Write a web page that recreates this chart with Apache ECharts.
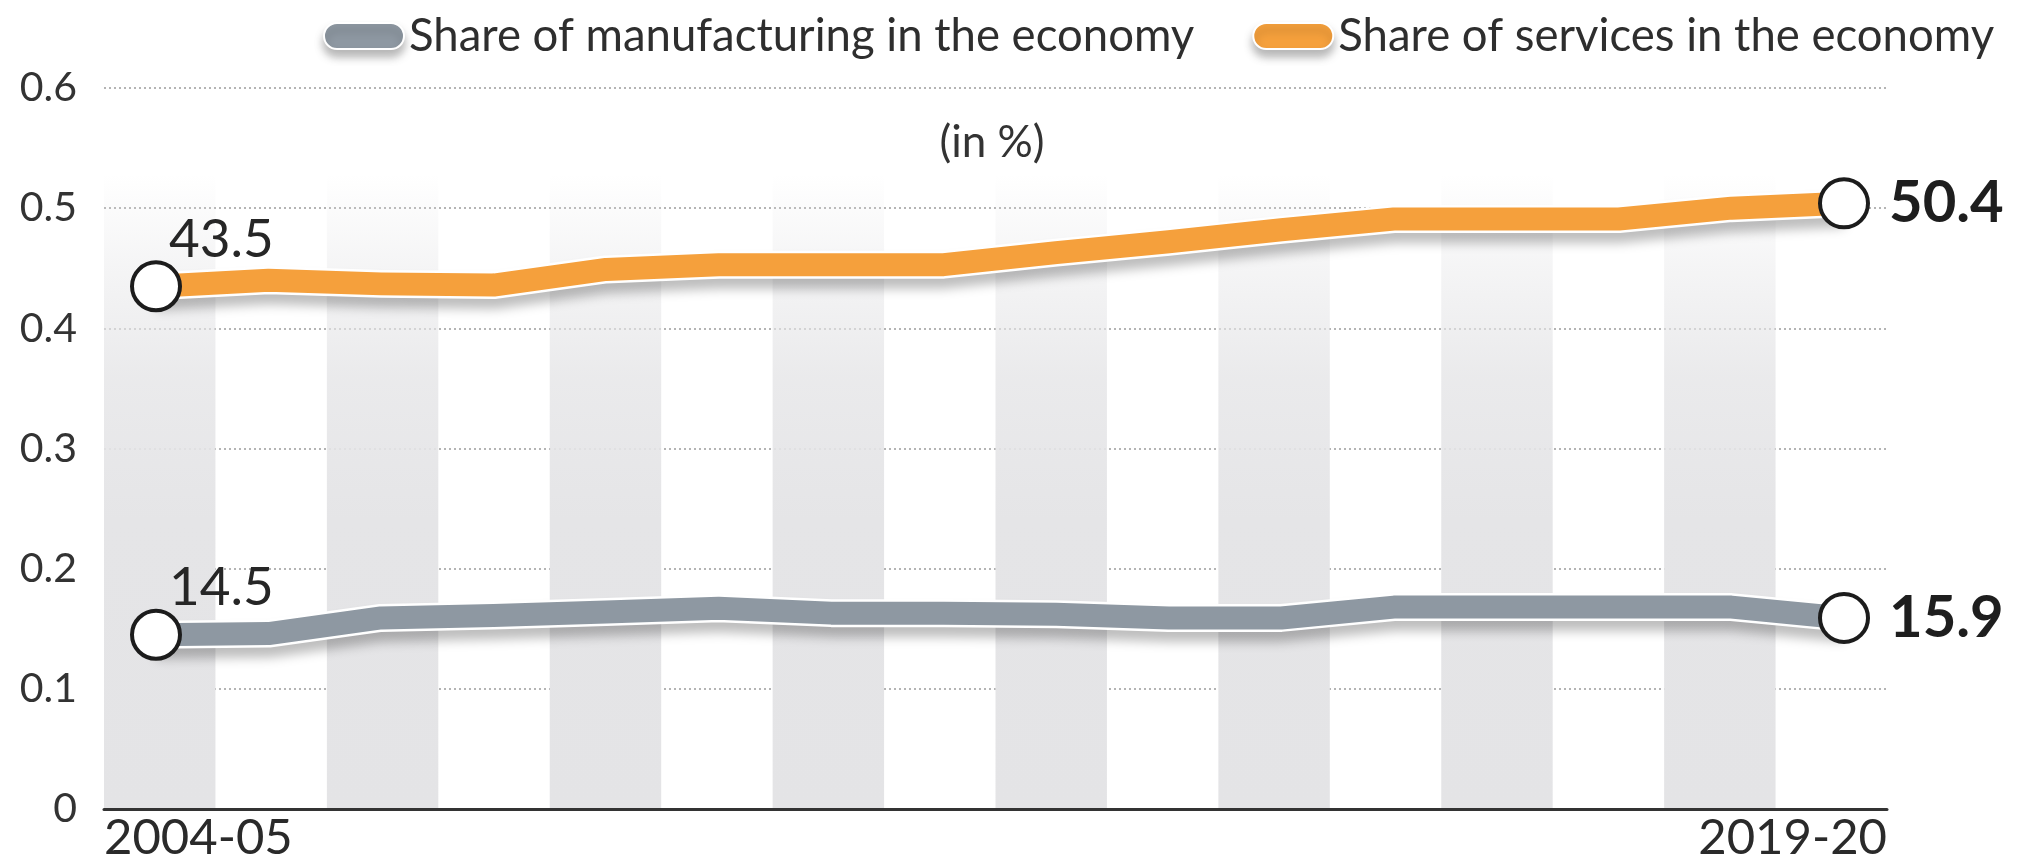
<!DOCTYPE html>
<html>
<head>
<meta charset="utf-8">
<title>Share of manufacturing and services in the economy</title>
<script src="https://cdn.jsdelivr.net/npm/echarts@6/dist/echarts.min.js"></script>
<style>
  html, body { margin: 0; padding: 0; background: #ffffff; }
  #chart { width: 2032px; height: 859px; }
</style>
</head>
<body>
<div id="chart"></div>
<script>
// Fiscal years on the x axis
const years = [
  '2004-05', '2005-06', '2006-07', '2007-08', '2008-09', '2009-10', '2010-11', '2011-12',
  '2012-13', '2013-14', '2014-15', '2015-16', '2016-17', '2017-18', '2018-19', '2019-20'
];

// Shares in per cent
const manufacturing = [14.5, 14.6, 15.9, 16.1, 16.4, 16.7, 16.3, 16.3, 16.2, 15.9, 15.9, 16.8, 16.8, 16.8, 16.8, 15.9];
const services = [43.5, 44.0, 43.7, 43.6, 44.9, 45.3, 45.3, 45.3, 46.3, 47.2, 48.2, 49.1, 49.1, 49.1, 50.0, 50.4];

// Value axis ticks (shares as fractions)
const yMin = 0;
const yMax = 0.6;
const yStep = 0.1;

const seriesNames = ['Share of manufacturing in the economy', 'Share of services in the economy'];
const seriesColors = ['#8e98a2', '#f5a03c'];

const FONT = 'Lato, "Noto Sans", "Liberation Sans", sans-serif';
const last = years.length - 1;

// Column shading: grey bands that fade out towards the top of the plot
const bandGrey = {
  type: 'linear', x: 0, y: 0, x2: 0, y2: 1,
  colorStops: [
    { offset: 0, color: 'rgba(229,229,231,0)' },
    { offset: 0.12, color: 'rgba(229,229,231,0)' },
    { offset: 0.25, color: 'rgba(229,229,231,0.4)' },
    { offset: 0.4, color: 'rgba(229,229,231,0.8)' },
    { offset: 0.6, color: 'rgba(229,229,231,1)' },
    { offset: 1, color: 'rgba(228,228,230,1)' }
  ]
};

const labelText = p => (p.value * 100).toFixed(1);

// Only the first and last points carry a ring marker and a value label
function buildPoints(pct) {
  return pct.map((v, i) => {
    const item = { value: v / 100 };
    if (i === 0) {
      item.symbol = 'circle';
      item.label = {
        show: true, position: [39, 6], align: 'left', verticalAlign: 'bottom',
        formatter: labelText, fontFamily: FONT, fontSize: 53, color: '#262626'
      };
    } else if (i === last) {
      item.symbol = 'circle';
      item.label = {
        show: true, position: 'right', distance: 19,
        formatter: labelText, fontFamily: FONT, fontSize: 58, fontWeight: 'bold', color: '#1e1e1e'
      };
    } else {
      item.symbol = 'none';
    }
    return item;
  });
}

function edgeSeries(pct, key) {
  // white casing with a soft drop shadow beneath each line
  return {
    type: 'line', name: key, xAxisIndex: 2, yAxisIndex: 1,
    data: pct.map(v => v / 100),
    symbol: 'none', silent: true, z: 3,
    lineStyle: {
      color: '#ffffff', width: 28, join: 'round',
      shadowColor: 'rgba(0,0,0,0.26)', shadowBlur: 11, shadowOffsetY: 10
    }
  };
}

function mainSeries(pct, idx) {
  return {
    type: 'line', name: seriesNames[idx], xAxisIndex: 2, yAxisIndex: 1,
    data: buildPoints(pct),
    symbolSize: 48, silent: true, z: 4,
    itemStyle: { color: '#ffffff', borderColor: '#1c1c1c', borderWidth: 4 },
    lineStyle: { color: seriesColors[idx], width: 23, join: 'round' }
  };
}

const legendIcon = 'path://M13,0 L67,0 A13,13 0 0 1 67,26 L13,26 A13,13 0 0 1 13,0 Z';

const option = {
  animation: false,
  backgroundColor: '#ffffff',
  textStyle: { fontFamily: FONT },
  legend: {
    top: 8, left: 318, width: 1710,
    itemWidth: 80, itemHeight: 26, itemGap: 58,
    icon: legendIcon,
    selectedMode: false,
    textStyle: { fontFamily: FONT, fontSize: 45.5, color: '#2e2e2e' },
    data: seriesNames.map((n, i) => ({
      name: n,
      itemStyle: {
        color: seriesColors[i], borderColor: '#ffffff', borderWidth: 2,
        shadowColor: 'rgba(0,0,0,0.28)', shadowBlur: 8, shadowOffsetY: 7
      }
    }))
  },
  graphic: [{
    type: 'text', x: 992, y: 143,
    style: {
      text: '(in %)', align: 'center', verticalAlign: 'middle',
      fontFamily: FONT, fontSize: 44, fill: '#333333'
    }
  }],
  grid: [
    { left: 104, right: 145, top: 88, bottom: 50, outerBoundsMode: 'none' },
    { left: 156, right: 188, top: 88, bottom: 50, outerBoundsMode: 'none' }
  ],
  xAxis: [
    {
      // shaded columns and the baseline
      type: 'category', gridIndex: 0, data: years, boundaryGap: true,
      axisLine: { show: true, lineStyle: { color: '#333333', width: 3 } },
      axisTick: { show: false },
      axisLabel: { show: false },
      splitLine: { show: false },
      splitArea: { show: true, interval: 0, areaStyle: { color: [bandGrey, 'rgba(255,255,255,0)'] } },
      z: 1
    },
    {
      // first and last year labels, flush with the plot edges
      type: 'category', gridIndex: 0, boundaryGap: false, position: 'bottom',
      data: years.map((y, i) => ({
        value: y,
        textStyle: { align: i === 0 ? 'left' : (i === last ? 'right' : 'center') }
      })),
      axisLine: { show: false }, axisTick: { show: false },
      splitLine: { show: false }, splitArea: { show: false },
      axisLabel: {
        interval: (i) => i === 0 || i === last,
        fontFamily: FONT, fontSize: 49, color: '#2a2a2a', margin: 5
      }
    },
    {
      // positions of the yearly points
      type: 'category', gridIndex: 1, data: years, boundaryGap: false, show: false
    }
  ],
  yAxis: [
    {
      type: 'value', gridIndex: 0, min: yMin, max: yMax, interval: yStep,
      axisLine: { show: false }, axisTick: { show: false },
      axisLabel: {
        formatter: v => (v === 0 ? '0' : v.toFixed(1)),
        fontFamily: FONT, fontSize: 41, color: '#333333', margin: 27
      },
      splitLine: { show: true, lineStyle: { type: [2, 3], color: '#9c9c9c', width: 1.6 } }
    },
    { type: 'value', gridIndex: 1, min: yMin, max: yMax, interval: yStep, show: false }
  ],
  series: [
    edgeSeries(services, 'services-casing'),
    edgeSeries(manufacturing, 'manufacturing-casing'),
    mainSeries(manufacturing, 0),
    mainSeries(services, 1)
  ]
};

const chart = echarts.init(document.getElementById('chart'), null, { renderer: 'canvas' });
chart.setOption(option);
</script>
</body>
</html>
